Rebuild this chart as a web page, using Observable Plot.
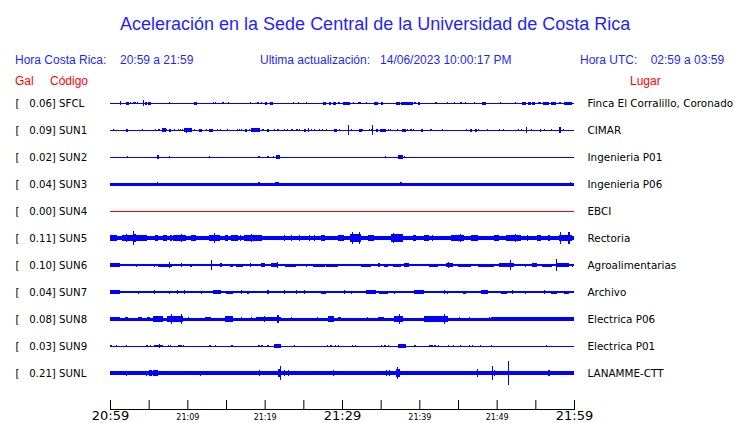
<!DOCTYPE html>
<html><head><meta charset="utf-8">
<script src="https://cdn.jsdelivr.net/npm/d3@7"></script>
<script src="https://cdn.jsdelivr.net/npm/@observablehq/plot@0.6"></script>
<style>
body{margin:0;background:#fff;}
#wrap{position:relative;width:740px;height:423px;overflow:hidden;font-family:"Liberation Sans",Arial,sans-serif;}
.t{position:absolute;white-space:pre;line-height:1;}
#title{left:120px;top:15px;font-size:18px;color:#1f1fff;}
.hdr{font-size:12px;color:#1f1fff;top:54px;}
.red{font-size:12px;color:#ff0000;top:75px;}
#chart{position:absolute;left:0;top:0;}
</style></head>
<body>
<div id="wrap">
  <div id="chart"></div>
  <div class="t" id="title">Aceleración en la Sede Central de la Universidad de Costa Rica</div>
  <div class="t hdr" style="left:15px">Hora Costa Rica:</div>
  <div class="t hdr" style="left:120px">20:59 a 21:59</div>
  <div class="t hdr" style="left:260px">Ultima actualización:   14/06/2023 10:00:17 PM</div>
  <div class="t hdr" style="left:580px">Hora UTC:    02:59 a 03:59</div>
  <div class="t red" style="left:15px">Gal</div>
  <div class="t red" style="left:50px">Código</div>
  <div class="t red" style="left:630px">Lugar</div>
</div>
<script>
// ---- data ----
const codes = ["SFCL","SUN1","SUN2","SUN3","SUN4","SUN5","SUN6","SUN7","SUN8","SUN9","SUNL"];
const gal = [0.06,0.09,0.02,0.04,0.00,0.11,0.10,0.04,0.08,0.03,0.21];
const places = ["Finca El Corralillo, Coronado","CIMAR","Ingenieria P01","Ingenieria P06","EBCI","Rectoria","Agroalimentarias","Archivo","Electrica P06","Electrica P01","LANAMME-CTT"];
// background noise half-amplitude of each trace
const noise = [0.5,0.5,0.5,1.5,0.5,2.3,1.2,1.2,1.5,0.5,2.2];
// bursts: [startMin, endMin, halfAmp] or [min, halfAmp] (single spike); minutes after 20:59
const burstsSFCL = [[1.38,2],[2.06,2.45,1.5],[2.71,1],[3.01,1],[3.23,1],[3.53,1],[4.22,4.43,3],[4.52,4.73,1.5],[4.86,5.25,1.5],[7.74,0.8],[10.84,11.31,1.5],[13.33,1],[13.68,1],[14.49,14.75,1.2],[15.27,1],[18.19,0.8],[19.14,1],[19.57,1],[20.0,20.34,1.5],[20.65,21.12,1.5],[23.78,1],[24.43,1],[25.38,0.8],[27.53,27.96,1.5],[28.26,28.6,1.5],[28.9,29.25,1.5],[29.46,29.76,1.2],[30.15,30.97,1.5],[31.4,31.61,1.2],[32.04,32.47,1.2],[33.12,1],[34.11,34.62,1.5],[35.05,35.31,1.5],[37.03,37.55,1.5],[37.63,39.14,1.5],[39.35,39.57,1.2],[39.87,40.13,1.5],[42.15,1],[43.66,1],[44.43,44.65,1.2],[45.25,45.46,1.2],[46.02,1],[47.1,0.8],[48.04,48.65,1.5],[50.45,0.8],[52.47,0.8],[53.33,53.76,1.5],[54.06,54.41,1.5],[54.62,54.92,1.5],[55.4,55.7,1.2],[56.04,56.77,1.5],[56.99,57.63,1.5],[58.19,1],[58.71,59.78,1.5]];
const burstsSUN1 = [[0.43,0.8],[2.06,2.28,1.5],[4.17,0.8],[5.89,1],[6.24,1],[6.45,1],[6.75,7.18,1.7],[7.31,1],[7.61,7.87,1.5],[8.39,0.8],[8.9,1],[9.16,1],[9.38,1],[9.59,10.62,1.8],[9.9,2.5],[10.2,2.3],[10.97,1],[11.57,11.91,1.5],[12.47,1],[12.77,13.33,1.5],[13.85,1],[14.32,1],[15.18,1],[16.47,1],[16.77,1],[16.99,1],[17.42,17.76,1.5],[18.06,1],[18.28,19.35,1.7],[18.8,2.3],[19.78,1],[20.3,20.56,1.5],[21.29,1],[21.63,1],[21.81,1],[22.58,1],[22.92,1],[23.53,1],[24.09,1],[24.3,1],[24.52,1],[25.08,25.33,1.5],[25.68,2.3],[26.02,1],[26.45,1],[27.1,1],[27.44,1],[27.96,1],[29.03,29.38,1.5],[29.68,1],[30.88,5.3],[31.18,1.2],[32.26,32.56,1.5],[32.69,1],[33.55,1],[33.76,1],[33.98,4.7],[34.41,34.62,1.5],[34.97,35.7,1.5],[36.0,1],[36.26,1],[37.12,1],[37.72,38.28,1.5],[38.49,1],[38.92,1],[39.27,1],[40.22,40.47,1.5],[41.51,1],[43.01,1],[46.11,1],[46.54,46.75,1.5],[47.18,47.4,1.5],[47.66,1],[48.82,1],[50.32,0.8],[50.88,1],[52.82,1],[53.25,1],[53.89,3.3],[54.49,1],[55.61,55.78,1.5],[56.13,1],[57.12,1],[58.19,2.7],[58.62,1.2]];
const burstsSUN2 = [[2.24,0.8],[6.02,6.37,1.7],[7.66,1.3],[12.9,1.3],[19.27,0.8],[20.43,1],[21.2,1.3],[21.51,21.94,1.7],[35.57,1.3],[37.29,37.94,1.7],[38.06,1.3]];
const burstsSUN3 = [[6.11,2.3],[19.27,1.9],[21.4,21.8,2.2],[37.63,2.3],[59.57,1.9]];
const burstsSUN4 = [];
const burstsSUN5 = [[0,0.86,3],[1.51,3.66,3.3],[2.15,4],[3.01,7.3],[3.23,4],[3.66,4.73,2.6],[5.81,6.24,2.6],[6.88,7.31,2.6],[7.74,7.96,2.6],[8.17,9.89,3],[9.25,4],[10.45,11.18,2.6],[12.77,14.19,3.3],[13.55,4.7],[14.84,15.27,3],[15.7,16.56,2.7],[16.77,16.99,3.3],[17.33,19.57,3],[18.28,4],[19.57,3.3],[22.58,2.6],[23.44,2.6],[24.52,2.6],[25.81,2.6],[26.45,2.6],[27.31,27.74,2.7],[29.46,30.32,3.3],[30.97,32.47,4.2],[31.4,6],[32.26,6],[33.33,34.19,2.6],[36.34,37.85,3.6],[36.69,4.7],[39.14,39.57,3.3],[40.65,41.29,2.6],[41.72,2.6],[44.09,45.81,3],[45.38,4],[46.67,47.53,2.7],[49.68,50.32,2.7],[51.18,53.12,2.7],[52.47,3.7],[53.98,2.6],[55.27,55.7,3],[56.77,2.6],[58.06,59.78,3.3],[58.28,6],[59.35,6]];
const burstsSUN6 = [[0,1.29,1.7],[3.44,1.5],[5.81,1.5],[6.24,7.96,1.5],[7.74,3.3],[9.25,2.3],[10.32,10.54,1.5],[13.12,5.3],[14.19,14.49,2],[15.48,15.91,1.5],[16.34,17.2,1.5],[18.15,2],[19.57,20.0,2],[20.86,21.72,1.7],[21.63,3],[22.58,24.09,1.5],[25.38,1.5],[26.24,27.74,1.5],[27.96,29.46,1.5],[32.47,33.76,1.5],[34.62,34.97,2],[35.4,35.91,1.5],[36.56,37.63,1.5],[38.06,38.71,2],[41.29,42.37,1.5],[43.44,44.3,2.3],[43.78,3.3],[44.95,46.67,1.5],[47.53,49.68,1.5],[50.32,52.26,2],[51.83,5],[53.76,1.5],[54.62,55.27,1.7],[55.83,57.2,1.5],[57.76,5.7],[57.85,59.35,1.7],[59.78,1.5]];
const burstsSUN7 = [[0,1.29,1.7],[3.66,1.5],[5.72,2],[7.74,1.5],[8.73,2],[9.68,1.7],[11.83,1.5],[13.33,14.41,1.7],[15.05,15.91,1.5],[16.99,2.3],[17.85,1.5],[20.43,2],[22.58,1.7],[24.09,1.7],[25.16,2.3],[27.31,27.96,1.5],[30.32,2],[31.18,1.5],[33.12,34.41,1.7],[34.84,35.91,1.5],[36.77,1.5],[39.35,40.65,2],[43.23,1.7],[43.66,1.5],[45.59,46.02,1.5],[47.96,48.82,1.7],[50.54,51.4,1.5],[52.04,1.7],[53.76,1.5],[56.13,1.7],[56.99,57.85,1.5],[58.71,59.35,1.5]];
const burstsSUN8 = [[0,1.29,2],[1.94,2.37,1.8],[3.66,4.09,1.8],[4.73,5.16,1.8],[5.59,6.88,2.7],[7.31,9.46,3.0],[7.96,4.7],[9.25,4.7],[10.11,1.8],[12.26,13.12,2],[14.84,15.91,2.8],[16.99,1.8],[18.28,1.8],[18.92,22.15,2.2],[20.0,3.3],[21.72,4],[23.44,1.8],[26.88,1.8],[28.17,29.03,3.0],[29.46,29.89,1.8],[33.33,1.8],[34.62,35.48,1.8],[36.77,37.85,3.0],[37.42,4.7],[40.65,43.66,3.0],[43.23,5],[45.16,1.8],[46.45,1.8],[49.03,1.8],[49.25,60,1.8],[56.34,2]];
const burstsSUN9 = [[0.13,1],[0.86,0.8],[2.15,1],[4.6,4.95,1.3],[5.25,1],[5.72,6.88,1.3],[6.45,1.7],[7.53,1],[7.83,1],[8.82,9.25,1.3],[9.55,1],[12.77,13.03,1.3],[13.63,1],[15.78,1],[19.27,1],[19.57,19.83,1.3],[20.3,20.52,1.3],[21.2,22.15,1.7],[21.72,2.3],[23.87,1],[28.09,1],[28.43,28.77,1.3],[29.16,1],[29.59,1],[31.31,1],[31.74,1],[35.14,1],[35.48,35.7,1.3],[36.0,1],[37.2,38.28,1.7],[39.44,1],[41.29,41.72,1.3],[41.94,42.15,1.3],[42.49,1],[43.66,43.87,1.3],[44.43,1],[45.29,1],[46.45,1],[46.88,1],[47.96,1],[49.33,1],[56.47,1]];
const burstsSUNL = [[2.15,2.5],[4.73,2.5],[5.03,5.46,2.8],[5.59,6.15,2.8],[11.74,2.5],[17.76,2.4],[19.35,2.8],[21.72,22.15,4],[22.06,6.7],[22.58,2.8],[23.1,2.8],[25.68,2.4],[28.9,2.8],[29.89,2.4],[30.67,2.4],[32.04,2.4],[35.7,2.8],[36.13,2.8],[36.43,2.4],[36.99,37.55,4],[37.2,6],[47.44,47.61,4],[49.46,6.7],[49.76,2.8],[51.48,12],[56.77,2.8]];
const bursts = [burstsSFCL,burstsSUN1,burstsSUN2,burstsSUN3,burstsSUN4,burstsSUN5,burstsSUN6,burstsSUN7,burstsSUN8,burstsSUN9,burstsSUNL];
const spanMinutes = [0, 60];
const allTickMinutes = [0,5,10,15,20,25,30,35,40,45,50,55,60];
const majorTickMinutes = [0,30,60];
const majorTickLabels = ["20:59","21:29","21:59"];
const minorTickMinutes = [10,20,40,50];
const minorTickLabels = ["21:09","21:19","21:39","21:49"];

// ---- build ----
const AMP_PER_ROW = 27;   // amplitude units per row spacing
const SPIKE = 0.07;       // half-duration of a single spike (minutes)
const base = codes.map((c,i) => ({i, t0: spanMinutes[0], t1: spanMinutes[1], a: noise[i]}));
const segs = [];
bursts.forEach((list,i) => list.forEach(b => {
  const [t0,t1,a] = b.length === 2 ? [b[0]-SPIKE, b[0]+SPIKE, b[1]] : b;
  segs.push({i,t0,t1,a});
}));
const colorOf = d => codes[d.i] === "SUN4" ? "#ff0000" : "#0000ff";
const y1 = d => d.i - d.a/AMP_PER_ROW, y2 = d => d.i + d.a/AMP_PER_ROW;
const NB = "\u00a0";

const chart = Plot.plot({
  width: 740, height: 423,
  marginLeft: 110, marginRight: 166, marginTop: 89.5, marginBottom: 14,
  style: {fontFamily: "DejaVu Sans", fontSize: "10px", background: "transparent", color: "#000"},
  x: {domain: spanMinutes, axis: null},
  y: {domain: [-0.5, 11.33], reverse: true, axis: null},
  color: {type: "identity"},
  marks: [
    Plot.rect(base, {x1: "t0", x2: "t1", y1, y2, fill: colorOf, shapeRendering: "crispEdges"}),
    Plot.rect(segs, {x1: "t0", x2: "t1", y1, y2, fill: colorOf, shapeRendering: "crispEdges"}),
    Plot.text(codes, {y: (d,i) => i, frameAnchor: "left", dx: -95, textAnchor: "start",
      text: (d,i) => `[${NB}${NB}${NB}${gal[i].toFixed(2)}] ${d}`, fill: "#000", fontSize: 10.2}),
    Plot.text(places, {y: (d,i) => i, frameAnchor: "right", dx: 13, textAnchor: "start",
      text: d => d, fill: "#000", fontSize: 10.4}),
    Plot.frame({anchor: "bottom", stroke: "#000"}),
    Plot.axisX({ticks: allTickMinutes, tickSize: 9, dy: -9, tickFormat: () => "", stroke: "#000"}),
    Plot.axisX({ticks: majorTickMinutes, tickSize: 0, tickPadding: 1.5, fontSize: 13,
      tickFormat: d => majorTickLabels[majorTickMinutes.indexOf(d)], fill: "#000"}),
    Plot.axisX({ticks: minorTickMinutes, tickSize: 0, tickPadding: 5, fontSize: 8,
      tickFormat: d => minorTickLabels[minorTickMinutes.indexOf(d)], fill: "#000"})
  ]
});
document.getElementById("chart").appendChild(chart);
</script>
</body></html>
